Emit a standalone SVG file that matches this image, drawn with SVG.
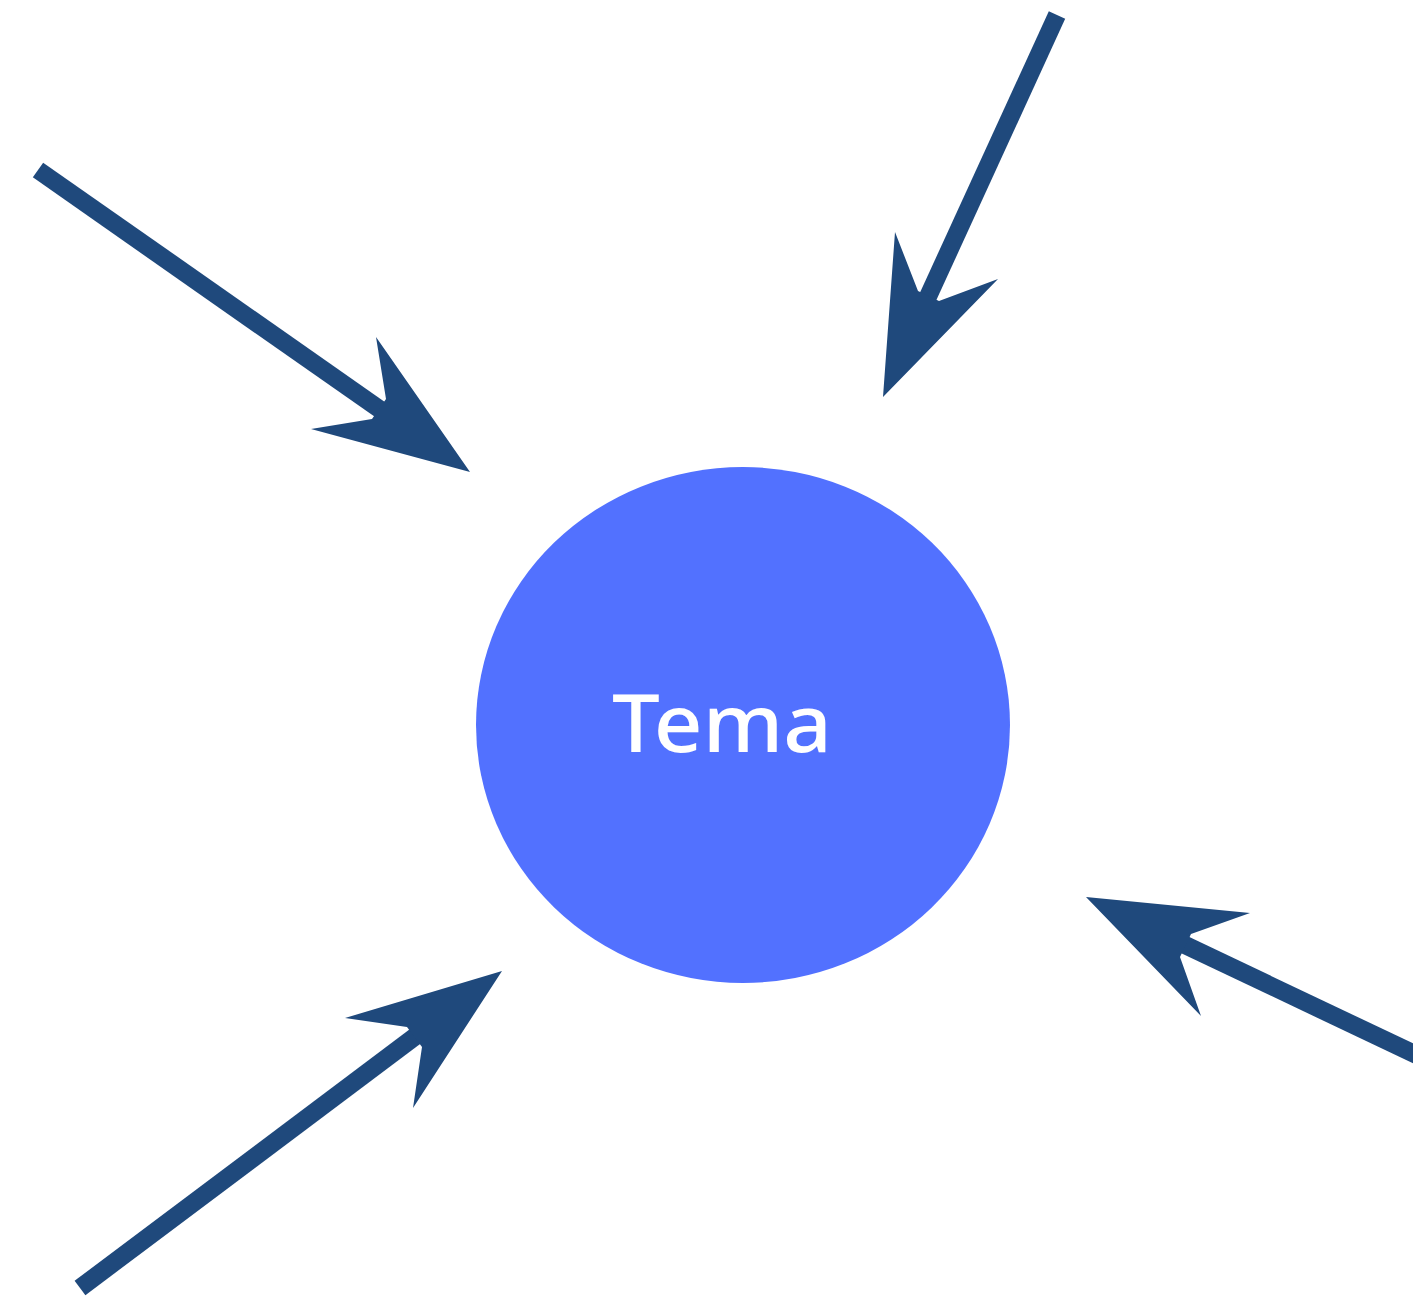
<svg xmlns="http://www.w3.org/2000/svg" width="1413" height="1296" viewBox="0 0 1413 1296">
<style>
.ln{stroke:#1F497C;stroke-width:18;fill:none}
.hd{fill:#1F497C}
.lbl{font-family:"Noto Sans","Open Sans",sans-serif;font-size:80px;font-weight:500;fill:#FFFFFF}
</style>
<rect width="1413" height="1296" fill="#FFFFFF"/>
<g id="node-tema">
<ellipse cx="743" cy="725" rx="267" ry="258" fill="#5271FF"/>
<text class="lbl" x="722" y="752" text-anchor="middle" textLength="220" lengthAdjust="spacingAndGlyphs">Tema</text>
</g>
<g id="connectors">
<line class="ln" x1="38" y1="170" x2="415" y2="434"/>
<polygon class="hd" points="470,472 376,337 386,399 372,419 311,429"/>
<line class="ln" x1="1057" y1="15" x2="910" y2="336"/>
<polygon class="hd" points="883,397 895,232 918,291 939,301 998,279"/>
<line class="ln" x1="1425" y1="1059" x2="1145" y2="926"/>
<polygon class="hd" points="1086,897 1250,913 1191,934 1180,957 1201,1016"/>
<line class="ln" x1="80" y1="1288" x2="449" y2="1011"/>
<polygon class="hd" points="502,971 345,1018 407,1027 422,1047 413,1108"/>
</g>
</svg>
